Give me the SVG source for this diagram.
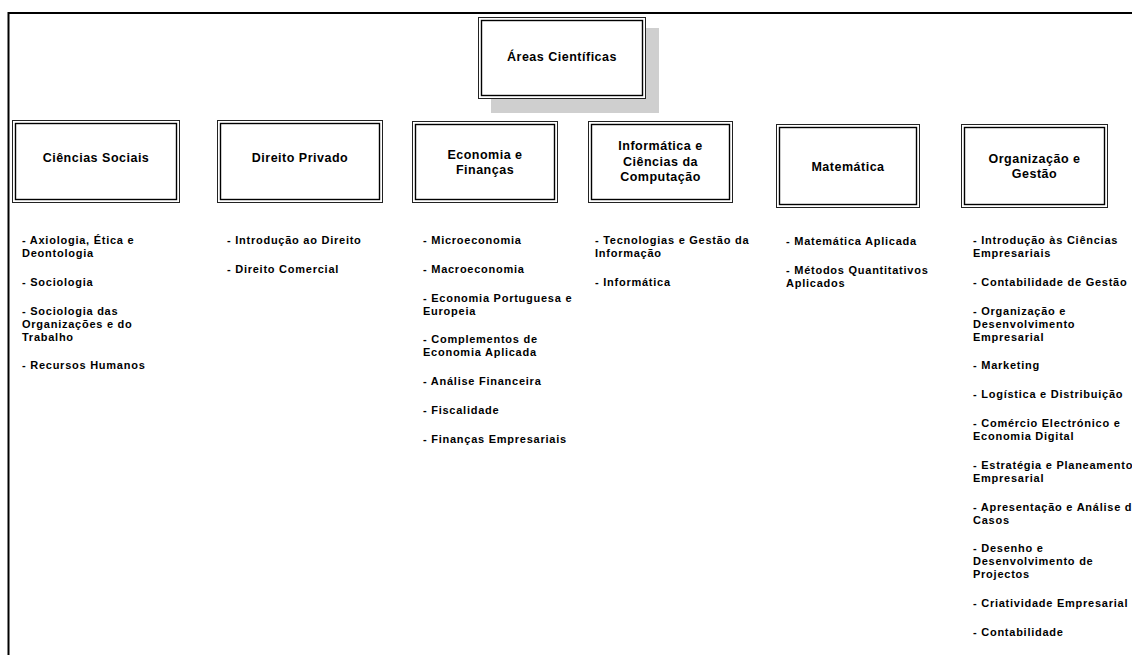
<svg xmlns="http://www.w3.org/2000/svg" width="1132" height="655" viewBox="0 0 1132 655">
<style>
.frame{stroke:#000;stroke-width:2;fill:none}
.outer{fill:#fff;stroke:#222;stroke-width:1}
.inner{fill:none;stroke:#000;stroke-width:1.4}
.shadow{fill:#cfcfcf}
.title{font-family:"Liberation Sans",Arial,sans-serif;font-weight:bold;font-size:12.5px;letter-spacing:0.5px;fill:#000;text-anchor:middle}
.item{font-family:"Liberation Sans",Arial,sans-serif;font-weight:bold;font-size:11px;letter-spacing:0.75px;fill:#000}
</style>
<rect width="1132" height="655" fill="#fff"/>
<path class="frame" d="M8.5,655 V13 H1132"/>
<g id="connectors"/>
<g id="areas-cientificas">
<rect class="shadow" x="491" y="28" width="168" height="85"/>
<rect class="outer" x="478.5" y="17.5" width="167" height="81"/>
<rect class="inner" x="481.5" y="20.5" width="161" height="75"/>
<text class="title" x="562" y="61">Áreas Científicas</text>
</g>
<g id="ciencias-sociais">
<rect class="outer" x="12.5" y="120.5" width="167" height="82"/>
<rect class="inner" x="15.5" y="123.5" width="161" height="76"/>
<text class="title" x="96" y="161.5">Ciências Sociais</text>
</g>
<g id="direito-privado">
<rect class="outer" x="217.5" y="120.5" width="165" height="82"/>
<rect class="inner" x="220.5" y="123.5" width="159" height="76"/>
<text class="title" x="300" y="161.5">Direito Privado</text>
</g>
<g id="economia-financas">
<rect class="outer" x="412.5" y="121.5" width="145" height="81"/>
<rect class="inner" x="415.5" y="124.5" width="139" height="75"/>
<text class="title" x="485" y="158.5">Economia e</text>
<text class="title" x="485" y="173.5">Finanças</text>
</g>
<g id="informatica">
<rect class="outer" x="588.5" y="121.5" width="144" height="81"/>
<rect class="inner" x="591.5" y="124.5" width="138" height="75"/>
<text class="title" x="660.5" y="150">Informática e</text>
<text class="title" x="660.5" y="165.5">Ciências da</text>
<text class="title" x="660.5" y="181">Computação</text>
</g>
<g id="matematica">
<rect class="outer" x="776.5" y="124.5" width="143" height="83"/>
<rect class="inner" x="779.5" y="127.5" width="137" height="77"/>
<text class="title" x="848" y="170.5">Matemática</text>
</g>
<g id="organizacao-gestao">
<rect class="outer" x="961.5" y="124.5" width="146" height="83"/>
<rect class="inner" x="964.5" y="127.5" width="140" height="77"/>
<text class="title" x="1034.5" y="162.5">Organização e</text>
<text class="title" x="1034.5" y="178">Gestão</text>
</g>
<g id="lista-ciencias-sociais">
<text class="item" x="22" y="244">- Axiologia, Ética e</text>
<text class="item" x="22" y="257">Deontologia</text>
<text class="item" x="22" y="285.8">- Sociologia</text>
<text class="item" x="22" y="314.6">- Sociologia das</text>
<text class="item" x="22" y="327.6">Organizações e do</text>
<text class="item" x="22" y="340.6">Trabalho</text>
<text class="item" x="22" y="369.4">- Recursos Humanos</text>
</g>
<g id="lista-direito-privado">
<text class="item" x="227" y="244">- Introdução ao Direito</text>
<text class="item" x="227" y="272.8">- Direito Comercial</text>
</g>
<g id="lista-economia-financas">
<text class="item" x="423" y="244">- Microeconomia</text>
<text class="item" x="423" y="272.8">- Macroeconomia</text>
<text class="item" x="423" y="301.6">- Economia Portuguesa e</text>
<text class="item" x="423" y="314.6">Europeia</text>
<text class="item" x="423" y="343.4">- Complementos de</text>
<text class="item" x="423" y="356.4">Economia Aplicada</text>
<text class="item" x="423" y="385.2">- Análise Financeira</text>
<text class="item" x="423" y="414">- Fiscalidade</text>
<text class="item" x="423" y="442.8">- Finanças Empresariais</text>
</g>
<g id="lista-informatica">
<text class="item" x="595" y="244">- Tecnologias e Gestão da</text>
<text class="item" x="595" y="257">Informação</text>
<text class="item" x="595" y="285.8">- Informática</text>
</g>
<g id="lista-matematica">
<text class="item" x="786" y="245">- Matemática Aplicada</text>
<text class="item" x="786" y="273.8">- Métodos Quantitativos</text>
<text class="item" x="786" y="286.8">Aplicados</text>
</g>
<g id="lista-organizacao-gestao">
<text class="item" x="973" y="244">- Introdução às Ciências</text>
<text class="item" x="973" y="257">Empresariais</text>
<text class="item" x="973" y="285.8">- Contabilidade de Gestão</text>
<text class="item" x="973" y="314.6">- Organização e</text>
<text class="item" x="973" y="327.6">Desenvolvimento</text>
<text class="item" x="973" y="340.6">Empresarial</text>
<text class="item" x="973" y="369.4">- Marketing</text>
<text class="item" x="973" y="398.2">- Logística e Distribuição</text>
<text class="item" x="973" y="427">- Comércio Electrónico e</text>
<text class="item" x="973" y="440">Economia Digital</text>
<text class="item" x="973" y="468.8">- Estratégia e Planeamento</text>
<text class="item" x="973" y="481.8">Empresarial</text>
<text class="item" x="973" y="510.6">- Apresentação e Análise d</text>
<text class="item" x="973" y="523.6">Casos</text>
<text class="item" x="973" y="552.4">- Desenho e</text>
<text class="item" x="973" y="565.4">Desenvolvimento de</text>
<text class="item" x="973" y="578.4">Projectos</text>
<text class="item" x="973" y="607.2">- Criatividade Empresarial</text>
<text class="item" x="973" y="636">- Contabilidade</text>
</g>
</svg>
